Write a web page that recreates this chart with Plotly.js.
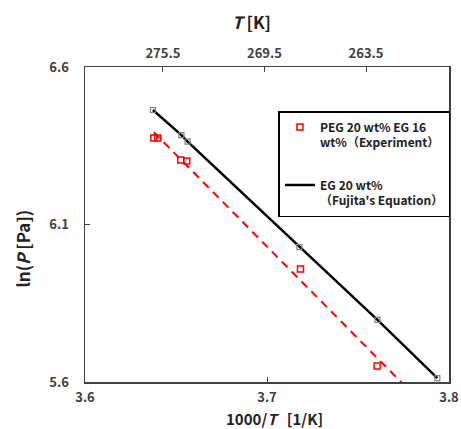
<!DOCTYPE html>
<html><head><meta charset="utf-8">
<script src="https://cdn.plot.ly/plotly-3.0.1.min.js"></script>
<style>body{margin:0;background:#fff}#c{width:461px;height:429px}</style>
</head><body><div id="c"></div>
<script>
// Experiment: PEG 20 wt% EG 16 wt%
const expX = [3.6378, 3.6400, 3.6526, 3.6559, 3.7184, 3.7605];
const expY = [6.3746, 6.3746, 6.3048, 6.3016, 5.9587, 5.6508];
// Fujita's equation: EG 20 wt%
const fujX = [3.6373, 3.6530, 3.6564, 3.7178, 3.7607, 3.7936];
const fujY = [6.4635, 6.3840, 6.3630, 6.0280, 5.7970, 5.6120];
// axes
const xTicks = [3.6, 3.7, 3.8];
const yTicks = [5.6, 6.1, 6.6];
const topTicks = [275.5, 269.5, 263.5];
const topTickText = ["275.5", "269.5", "263.5"];

// linear fit of experiment
const n = expX.length;
const mx = expX.reduce((a,b)=>a+b,0)/n, my = expY.reduce((a,b)=>a+b,0)/n;
let sxy=0, sxx=0;
for (let i=0;i<n;i++){sxy+=(expX[i]-mx)*(expY[i]-my); sxx+=(expX[i]-mx)**2;}
const slope = sxy/sxx, icpt = my - slope*mx;
const fitX = [Math.min(...expX), 3.8];
const fitY = fitX.map(x=>icpt+slope*x);

const F = "Noto Sans CJK JP, Noto Sans, sans-serif";
const axCol = "#404040";

const traces = [
  {x: fitX, y: fitY, mode: 'lines', line: {color: '#ff0000', width: 2, dash: '8px,6px'}, showlegend: false, hoverinfo: 'skip'},
  {x: expX, y: expY, mode: 'markers', name: 'PEG 20 wt% EG 16<br>wt%（Experiment）',
   marker: {symbol: 'square-open', color: '#ff0000', size: 6, line: {width: 1.5}}, legendgroup: 'a'},
  {x: fujX, y: fujY, mode: 'lines', name: 'EG 20 wt%<br>（Fujita\'s Equation）',
   line: {color: '#000', width: 2.5}, legendgroup: 'b'},
  {x: fujX, y: fujY, mode: 'markers', showlegend: false,
   marker: {symbol: 'square-open', color: '#808080', size: 5, line: {width: 1.2}}},
  {x: topTicks, y: [6.0, 6.0, 6.0], xaxis: 'x2', mode: 'markers', marker: {opacity: 0}, showlegend: false, hoverinfo: 'skip'}
];

const tickFont = {family: F, size: 13, color: axCol, weight: 'bold'};
const layout = {
  width: 461, height: 429,
  margin: {l: 85, r: 11, t: 67, b: 47},
  paper_bgcolor: '#fff', plot_bgcolor: '#fff',
  font: {family: F, color: '#222'},
  xaxis: {range: [3.6, 3.8], tickvals: xTicks, ticktext: xTicks.map(v=>v.toFixed(1)), ticks: 'inside', ticklen: 5, tickcolor: axCol,
    showline: true, linecolor: axCol, linewidth: 1.5, showgrid: false, zeroline: false, tickfont: tickFont, ticklabelstandoff: 3},
  xaxis2: {overlaying: 'x', side: 'top', range: [280.1, 258.6], tickvals: topTicks, ticktext: topTickText, ticks: 'inside', ticklen: 5,
    tickcolor: axCol, showline: true, linecolor: axCol, linewidth: 1.5, showgrid: false, zeroline: false, tickfont: tickFont, ticklabelstandoff: 2},
  yaxis: {range: [5.6, 6.6], tickvals: yTicks, ticktext: yTicks.map(v=>v.toFixed(1)), ticks: 'inside', ticklen: 5, tickcolor: axCol,
    showline: true, mirror: true, linecolor: axCol, linewidth: 1.5, showgrid: false, zeroline: false, tickfont: tickFont, ticklabelstandoff: 12},
  legend: {x: 0.53, y: 0.86, xanchor: 'left', yanchor: 'top', bordercolor: '#000', borderwidth: 1.5, bgcolor: '#fff',
    font: {family: F, size: 12, color: '#222', weight: 'bold'}, itemwidth: 30, tracegroupgap: 24, valign: 'top'},
  annotations: [
    {xref: 'paper', yref: 'paper', x: 0.52, y: -0.1143, yanchor: 'middle', xanchor: 'center', showarrow: false, borderpad: 0,
     text: '<b>1000/<i>T</i>   [1/K]</b>', font: {family: F, size: 15, color: '#222'}},
    {xref: 'paper', yref: 'paper', x: 0.4575, y: 1.146, yanchor: 'middle', xanchor: 'center', showarrow: false,
     text: '<b><i>T</i> [K]</b>', font: {family: F, size: 17, color: '#222'}},
    {xref: 'paper', yref: 'paper', x: -0.1726, y: 0.424, xanchor: 'center', yanchor: 'middle', showarrow: false, textangle: -90,
     text: '<b>ln(<i>P</i> [Pa])</b>', font: {family: F, size: 17, color: '#222'}}
  ]
};
Plotly.newPlot('c', traces, layout, {displayModeBar: false, staticPlot: true});
</script></body></html>
